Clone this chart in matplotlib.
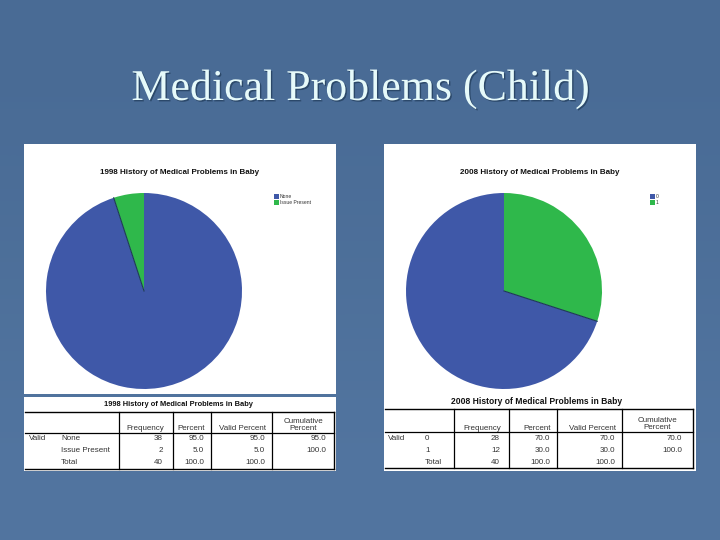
import numpy as np
import matplotlib
matplotlib.use('Agg')
import matplotlib.pyplot as plt
import matplotlib.patheffects as pe
from matplotlib.patches import Rectangle

# Data
slide_title = 'Medical Problems (Child)'
chart_titles = ['1998 History of Medical Problems in Baby', '2008 History of Medical Problems in Baby']
table_titles = ['1998 History of Medical Problems in Baby', '2008 History of Medical Problems in Baby']
legend_labels = [['None', 'Issue Present'], ['0', '1']]
table_headers = ['Frequency', 'Percent', 'Valid Percent', 'Cumulative\nPercent']
row_labels = [['None', 'Issue Present', 'Total'], ['0', '1', 'Total']]
frequency = [['38', '2', '40'], ['28', '12', '40']]
percent = [['95.0', '5.0', '100.0'], ['70.0', '30.0', '100.0']]
valid_percent = [['95.0', '5.0', '100.0'], ['70.0', '30.0', '100.0']]
cumulative = [['95.0', '100.0', ''], ['70.0', '100.0', '']]
slices_1998 = [95.0, 5.0]
slices_2008 = [30.0, 70.0]

BLUE = '#3f58a8'
GREEN = '#2fb84b'
W, H = 720, 540

fig = plt.figure(figsize=(7.2, 5.4), dpi=100)

# background, pixel coordinates with y going down
bg = fig.add_axes([0, 0, 1, 1])
bg.set_xlim(0, W)
bg.set_ylim(H, 0)
bg.axis('off')
grad = np.array([[0.0], [0.15], [0.35], [0.6], [0.85], [1.0]])
top = np.array([0x49, 0x6b, 0x95]) / 255
bottom = np.array([0x52, 0x75, 0xa0]) / 255
bg.imshow((top + grad[:, :, None] * (bottom - top)), extent=[0, W, H, 0], aspect='auto',
          interpolation='bicubic', zorder=0)

title = bg.text(360, 100, slide_title, family='Liberation Serif', fontsize=31.6,
                color='#e6fafa', ha='center', va='baseline', zorder=5)
title.set_path_effects([pe.withSimplePatchShadow(offset=(1, -1), shadow_rgbFace='#24405f', alpha=0.8)])


def box(x0, y0, x1, y1, color='white', z=1):
    bg.add_patch(Rectangle((x0, y0), x1 - x0, y1 - y0, facecolor=color, edgecolor='none', zorder=z))


def small(x, y, s, ha='left', size=5.8, weight='normal', color='#333333'):
    bg.text(x, y, s, family='Liberation Sans', fontsize=size, ha=ha, va='center',
            weight=weight, color=color, zorder=4, linespacing=1.0)


def pie_at(cx, cy, r, values, colors, divider):
    ax = fig.add_axes([(cx - r) / W, 1 - (cy + r) / H, 2 * r / W, 2 * r / H])
    ax.pie(values, colors=colors, startangle=90, counterclock=False, radius=1,
           wedgeprops={'linewidth': 0})
    # dark seam along the slice boundary
    ang = np.deg2rad(90 - 3.6 * values[divider])
    ax.plot([0, np.cos(ang)], [0, np.sin(ang)], color='#1d3a55', lw=0.8)
    ax.set_xlim(-1, 1)
    ax.set_ylim(-1, 1)
    ax.set_zorder(3)
    return ax


def table(i, left, right, top_y, head_y, bot_y, vlines, label_x, val_x, row_y, head_y_text):
    bg.plot([left, right], [top_y, top_y], color='black', lw=1.0, zorder=4)
    bg.plot([left, right], [head_y, head_y], color='black', lw=0.9, zorder=4)
    bg.plot([left, right], [bot_y, bot_y], color='black', lw=1.0, zorder=4)
    bg.plot([right, right], [top_y, bot_y], color='black', lw=1.0, zorder=4)
    for v in vlines:
        bg.plot([v, v], [top_y, bot_y], color='black', lw=0.9, zorder=4)
    for k, head in enumerate(table_headers):
        if k < 3:
            small(val_x[k] + 1, head_y_text, head, ha='right')
        else:
            small((vlines[3] + right) / 2, head_y_text - 4, head, ha='center')
    for r in range(3):
        small(label_x, row_y[r], row_labels[i][r])
        small(val_x[0], row_y[r], frequency[i][r], ha='right')
        small(val_x[1], row_y[r], percent[i][r], ha='right')
        small(val_x[2], row_y[r], valid_percent[i][r], ha='right')
        small(val_x[3], row_y[r], cumulative[i][r], ha='right')


# left panel
box(24, 144, 336, 394)
box(24, 397, 336, 471)
pie_at(144, 291, 98, slices_1998, [BLUE, GREEN], 0)
small(179.5, 173, chart_titles[0], ha='center', size=5.75, weight='bold', color='#111111')
for k, lab in enumerate(legend_labels[0]):
    box(274, 193.5 + 6 * k, 279, 198.5 + 6 * k, [BLUE, GREEN][k], z=4)
    small(280, 196 + 6 * k, lab, size=3.6)
small(178, 404, table_titles[0], ha='center', size=5.45, weight='bold', color='#111111')
table(0, 25, 334, 412, 433, 469, [119, 173, 211, 272], 61,
      [163, 204, 265, 326], [439, 451, 463], 429)
small(29, 439, 'Valid')

# right panel
box(384, 144, 696, 471)
pie_at(504, 291, 98, slices_2008, [GREEN, BLUE], 0)
small(539.5, 173, chart_titles[1], ha='center', size=5.75, weight='bold', color='#111111')
for k, lab in enumerate(legend_labels[1]):
    box(650, 193.5 + 6 * k, 655, 198.5 + 6 * k, [BLUE, GREEN][k], z=4)
    small(656, 196 + 6 * k, lab, size=3.6)
small(537, 401, table_titles[1], ha='center', size=6.15, weight='bold', color='#111111')
table(1, 385, 693, 409, 432, 468, [454, 509, 557, 622], 425,
      [500, 550, 615, 682], [438, 451, 463], 428)
small(388, 438, 'Valid')

fig.savefig('out.png', dpi=100)
